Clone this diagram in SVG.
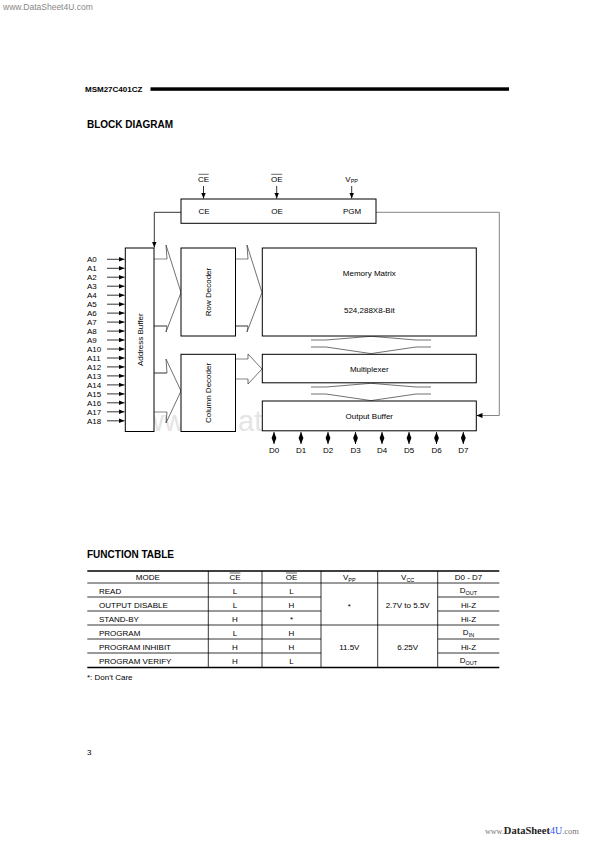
<svg xmlns="http://www.w3.org/2000/svg" width="595" height="842" viewBox="0 0 595 842">
<style>
text{font-family:"Liberation Sans",Arial,sans-serif;fill:#000}
.t8{font-size:8px}
.c{text-anchor:middle}
.box{fill:#fff;stroke:#000;stroke-width:1}
.ln{stroke:#000;stroke-width:0.8;fill:none}
.gl{stroke:#999;stroke-width:1.2;fill:none}
.chev{stroke:#333;stroke-width:0.7;fill:none}
.tb{stroke:#000;stroke-width:0.8}
.tk{stroke:#000;stroke-width:1.4}
.wm{font-size:29px;fill:#e4e4e4}
</style>
<defs>
<marker id="ah" markerUnits="userSpaceOnUse" markerWidth="6" markerHeight="6" refX="5" refY="2" orient="auto-start-reverse" viewBox="0 0 5 4">
<path d="M0,0 L5,2 L0,4 z" fill="#000"/>
</marker>
</defs>
<rect width="595" height="842" fill="#fff"/>
<text x="3" y="10" style="font-size:8.5px;fill:#888">www.DataSheet4U.com</text>
<text x="85" y="91.5" style="font-size:8px;font-weight:bold">MSM27C401CZ</text>
<rect x="150.5" y="87.3" width="358.5" height="3.5" fill="#000"/>
<text x="87" y="127.5" style="font-size:10px;font-weight:bold">BLOCK DIAGRAM</text>
<text x="143" y="431" class="wm">ww</text>
<text x="238" y="431" class="wm">ata</text>
<g id="connectors">
<line x1="203.5" y1="186" x2="203.5" y2="198.5" class="ln" marker-end="url(#ah)"/>
<line x1="276.7" y1="186" x2="276.7" y2="198.5" class="ln" marker-end="url(#ah)"/>
<line x1="351.7" y1="186" x2="351.7" y2="198.5" class="ln" marker-end="url(#ah)"/>
<polyline points="181,212.3 154.3,212.3 154.3,247.5" class="ln" marker-end="url(#ah)"/>
<polyline points="376,212.3 499.3,212.3 499.3,415.5 476.5,415.5" style="stroke:#777;stroke-width:0.9;fill:none" marker-end="url(#ah)"/>
<g id="addr-lines">
<line x1="107" y1="259.3" x2="124.5" y2="259.3" class="ln" marker-end="url(#ah)"/>
<line x1="107" y1="268.3" x2="124.5" y2="268.3" class="ln" marker-end="url(#ah)"/>
<line x1="107" y1="277.2" x2="124.5" y2="277.2" class="ln" marker-end="url(#ah)"/>
<line x1="107" y1="286.2" x2="124.5" y2="286.2" class="ln" marker-end="url(#ah)"/>
<line x1="107" y1="295.2" x2="124.5" y2="295.2" class="ln" marker-end="url(#ah)"/>
<line x1="107" y1="304.2" x2="124.5" y2="304.2" class="ln" marker-end="url(#ah)"/>
<line x1="107" y1="313.1" x2="124.5" y2="313.1" class="ln" marker-end="url(#ah)"/>
<line x1="107" y1="322.1" x2="124.5" y2="322.1" class="ln" marker-end="url(#ah)"/>
<line x1="107" y1="331.1" x2="124.5" y2="331.1" class="ln" marker-end="url(#ah)"/>
<line x1="107" y1="340.0" x2="124.5" y2="340.0" class="ln" marker-end="url(#ah)"/>
<line x1="107" y1="349.0" x2="124.5" y2="349.0" class="ln" marker-end="url(#ah)"/>
<line x1="107" y1="358.0" x2="124.5" y2="358.0" class="ln" marker-end="url(#ah)"/>
<line x1="107" y1="366.9" x2="124.5" y2="366.9" class="ln" marker-end="url(#ah)"/>
<line x1="107" y1="375.9" x2="124.5" y2="375.9" class="ln" marker-end="url(#ah)"/>
<line x1="107" y1="384.9" x2="124.5" y2="384.9" class="ln" marker-end="url(#ah)"/>
<line x1="107" y1="393.9" x2="124.5" y2="393.9" class="ln" marker-end="url(#ah)"/>
<line x1="107" y1="402.8" x2="124.5" y2="402.8" class="ln" marker-end="url(#ah)"/>
<line x1="107" y1="411.8" x2="124.5" y2="411.8" class="ln" marker-end="url(#ah)"/>
<line x1="107" y1="420.8" x2="124.5" y2="420.8" class="ln" marker-end="url(#ah)"/>
</g>
<g id="data-lines">
<line x1="274" y1="432" x2="274" y2="444" class="ln" marker-start="url(#ah)" marker-end="url(#ah)"/>
<line x1="301" y1="432" x2="301" y2="444" class="ln" marker-start="url(#ah)" marker-end="url(#ah)"/>
<line x1="328" y1="432" x2="328" y2="444" class="ln" marker-start="url(#ah)" marker-end="url(#ah)"/>
<line x1="355.5" y1="432" x2="355.5" y2="444" class="ln" marker-start="url(#ah)" marker-end="url(#ah)"/>
<line x1="382" y1="432" x2="382" y2="444" class="ln" marker-start="url(#ah)" marker-end="url(#ah)"/>
<line x1="409" y1="432" x2="409" y2="444" class="ln" marker-start="url(#ah)" marker-end="url(#ah)"/>
<line x1="436.5" y1="432" x2="436.5" y2="444" class="ln" marker-start="url(#ah)" marker-end="url(#ah)"/>
<line x1="463.3" y1="432" x2="463.3" y2="444" class="ln" marker-start="url(#ah)" marker-end="url(#ah)"/>
</g>
<g id="bus-arrows">
<line x1="154" y1="259" x2="167" y2="259" class="gl"/>
<line x1="154" y1="326" x2="167" y2="326" class="ln"/>
<path d="M167,259 L166,245 L181,292.5 L166,332 L167,326" class="chev"/>
<line x1="235" y1="259" x2="248" y2="259" class="gl"/>
<line x1="235" y1="326" x2="248" y2="326" class="ln"/>
<path d="M248,259 L247,245 L262,292.5 L247,332 L248,326" class="chev"/>
<line x1="154" y1="373" x2="167" y2="373" class="ln"/>
<line x1="154" y1="412" x2="167" y2="412" class="gl"/>
<path d="M167,373 L166,359 L181,391 L166,423 L167,412" class="chev"/>
<line x1="235" y1="359" x2="248" y2="359" class="gl"/>
<line x1="235" y1="379" x2="248" y2="379" class="gl"/>
<path d="M248,359 L248,354 L262,369 L248,384 L248,379" class="chev"/>
<path d="M311,340 H326 L371,336.3 L416,340 H431 M311,347 H326 L371,353.6 L416,347 H431" class="chev"/>
<path d="M311,387 H326 L371,383.3 L416,387 H431 M311,394 H326 L371,400.6 L416,394 H431" class="chev"/>
</g>
</g>
<g id="control">
<rect x="181" y="199" width="195" height="24.3" class="box"/>
<text x="204" y="214" class="t8 c">CE</text>
<text x="277" y="214" class="t8 c">OE</text>
<text x="352" y="214" class="t8 c">PGM</text>
</g>
<g id="ce-in"><text x="203.5" y="181.5" class="t8 c">CE</text><line x1="198.5" y1="174.3" x2="208.7" y2="174.3" stroke="#000" stroke-width="0.6"/></g>
<g id="oe-in"><text x="276.7" y="181.5" class="t8 c">OE</text><line x1="271.2" y1="174.3" x2="282.2" y2="174.3" stroke="#000" stroke-width="0.6"/></g>
<g id="vpp-in"><text x="351.7" y="181.5" class="t8 c">V<tspan style="font-size:5.5px" dy="1.8">PP</tspan></text></g>
<g id="address-buffer">
<rect x="125.3" y="248" width="28.7" height="183.5" class="box"/>
<text transform="translate(142.5,339.7) rotate(-90)" class="t8 c">Address Buffer</text>
</g>
<g id="addr-labels">
<text x="87" y="262.2" class="t8">A0</text>
<text x="87" y="271.2" class="t8">A1</text>
<text x="87" y="280.1" class="t8">A2</text>
<text x="87" y="289.1" class="t8">A3</text>
<text x="87" y="298.1" class="t8">A4</text>
<text x="87" y="307.1" class="t8">A5</text>
<text x="87" y="316.0" class="t8">A6</text>
<text x="87" y="325.0" class="t8">A7</text>
<text x="87" y="334.0" class="t8">A8</text>
<text x="87" y="342.9" class="t8">A9</text>
<text x="87" y="351.9" class="t8">A10</text>
<text x="87" y="360.9" class="t8">A11</text>
<text x="87" y="369.8" class="t8">A12</text>
<text x="87" y="378.8" class="t8">A13</text>
<text x="87" y="387.8" class="t8">A14</text>
<text x="87" y="396.8" class="t8">A15</text>
<text x="87" y="405.7" class="t8">A16</text>
<text x="87" y="414.7" class="t8">A17</text>
<text x="87" y="423.7" class="t8">A18</text>
</g>
<g id="row-decoder">
<rect x="181" y="248" width="54.5" height="88" class="box"/>
<text transform="translate(210.8,292) rotate(-90)" class="t8 c">Row Decoder</text>
</g>
<g id="column-decoder">
<rect x="181" y="354.3" width="54.5" height="77.2" class="box"/>
<text transform="translate(210.8,392.9) rotate(-90)" class="t8 c">Column Decoder</text>
</g>
<g id="memory-matrix">
<rect x="262.3" y="248" width="214" height="88" class="box"/>
<text x="369.3" y="276" class="t8 c">Memory Matrix</text>
<text x="369.3" y="313" class="t8 c">524,288X8-Bit</text>
</g>
<g id="multiplexer">
<rect x="262.3" y="354.3" width="214" height="28.5" class="box"/>
<text x="369.3" y="371.5" class="t8 c">Multiplexer</text>
</g>
<g id="output-buffer">
<rect x="262.3" y="401" width="214" height="29.8" class="box"/>
<text x="369.3" y="418.5" class="t8 c">Output Buffer</text>
</g>
<g id="data-labels">
<text x="274" y="453" class="t8 c">D0</text>
<text x="301" y="453" class="t8 c">D1</text>
<text x="328" y="453" class="t8 c">D2</text>
<text x="355.5" y="453" class="t8 c">D3</text>
<text x="382" y="453" class="t8 c">D4</text>
<text x="409" y="453" class="t8 c">D5</text>
<text x="436.5" y="453" class="t8 c">D6</text>
<text x="463.3" y="453" class="t8 c">D7</text>
</g>
<text x="87" y="558" style="font-size:10px;font-weight:bold">FUNCTION TABLE</text>
<g id="function-table">
<line x1="87.3" y1="571" x2="499.3" y2="571" class="tk"/>
<line x1="87.3" y1="583" x2="499.3" y2="583" class="tb"/>
<line x1="87.3" y1="597" x2="321" y2="597" class="tb"/>
<line x1="437.7" y1="597" x2="499.3" y2="597" class="tb"/>
<line x1="87.3" y1="611" x2="321" y2="611" class="tb"/>
<line x1="437.7" y1="611" x2="499.3" y2="611" class="tb"/>
<line x1="87.3" y1="625" x2="499.3" y2="625" class="tb"/>
<line x1="87.3" y1="639" x2="321" y2="639" class="tb"/>
<line x1="437.7" y1="639" x2="499.3" y2="639" class="tb"/>
<line x1="87.3" y1="653" x2="321" y2="653" class="tb"/>
<line x1="437.7" y1="653" x2="499.3" y2="653" class="tb"/>
<line x1="87.3" y1="667.5" x2="499.3" y2="667.5" class="tk"/>
<line x1="208.3" y1="571" x2="208.3" y2="667.5" class="tb"/>
<line x1="262" y1="571" x2="262" y2="667.5" class="tb"/>
<line x1="321" y1="571" x2="321" y2="667.5" class="tb"/>
<line x1="377.7" y1="571" x2="377.7" y2="667.5" class="tb"/>
<line x1="437.7" y1="571" x2="437.7" y2="667.5" class="tb"/>
<text x="147.8" y="580" class="t8 c">MODE</text>
<text x="235" y="580" class="t8 c">CE</text><line x1="229.6" y1="573" x2="240.4" y2="573" stroke="#000" stroke-width="0.6"/>
<text x="291.5" y="580" class="t8 c">OE</text><line x1="286" y1="573" x2="297" y2="573" stroke="#000" stroke-width="0.6"/>
<text x="349.3" y="580" class="t8 c">V<tspan style="font-size:5.5px" dy="1.8">PP</tspan></text>
<text x="407.7" y="580" class="t8 c">V<tspan style="font-size:5.5px" dy="1.8">CC</tspan></text>
<text x="468.5" y="580" class="t8 c">D0 - D7</text>
<text x="99" y="593.5" class="t8">READ</text>
<text x="99" y="607.5" class="t8">OUTPUT DISABLE</text>
<text x="99" y="621.5" class="t8">STAND-BY</text>
<text x="99" y="635.5" class="t8">PROGRAM</text>
<text x="99" y="649.5" class="t8">PROGRAM INHIBIT</text>
<text x="99" y="663.5" class="t8">PROGRAM VERIFY</text>
<text x="235" y="593.5" class="t8 c">L</text>
<text x="235" y="607.5" class="t8 c">L</text>
<text x="235" y="621.5" class="t8 c">H</text>
<text x="235" y="635.5" class="t8 c">L</text>
<text x="235" y="649.5" class="t8 c">H</text>
<text x="235" y="663.5" class="t8 c">H</text>
<text x="291.5" y="593.5" class="t8 c">L</text>
<text x="291.5" y="607.5" class="t8 c">H</text>
<text x="291.5" y="622" class="t8 c">*</text>
<text x="291.5" y="635.5" class="t8 c">H</text>
<text x="291.5" y="649.5" class="t8 c">H</text>
<text x="291.5" y="663.5" class="t8 c">L</text>
<text x="349.3" y="608.5" class="t8 c">*</text>
<text x="349.3" y="649.5" class="t8 c">11.5V</text>
<text x="407.7" y="607.5" class="t8 c">2.7V to 5.5V</text>
<text x="407.7" y="649.5" class="t8 c">6.25V</text>
<text x="468.5" y="593" class="t8 c">D<tspan style="font-size:5.5px" dy="1.8">OUT</tspan></text>
<text x="468.5" y="607.5" class="t8 c">Hi-Z</text>
<text x="468.5" y="621.5" class="t8 c">Hi-Z</text>
<text x="468.5" y="635" class="t8 c">D<tspan style="font-size:5.5px" dy="1.8">IN</tspan></text>
<text x="468.5" y="649.5" class="t8 c">Hi-Z</text>
<text x="468.5" y="663" class="t8 c">D<tspan style="font-size:5.5px" dy="1.8">OUT</tspan></text>
</g>
<text x="87" y="680" class="t8">*:  Don't Care</text>
<text x="87" y="755" class="t8">3</text>
<text x="485" y="834" style="font-family:'Liberation Serif',serif;font-size:8px;fill:#777">www.<tspan style="font-size:10.5px;font-weight:bold;fill:#222">DataSheet</tspan><tspan style="font-size:10px;fill:#3355ee">4U</tspan><tspan style="font-size:8.5px;fill:#777">.com</tspan></text>
</svg>
